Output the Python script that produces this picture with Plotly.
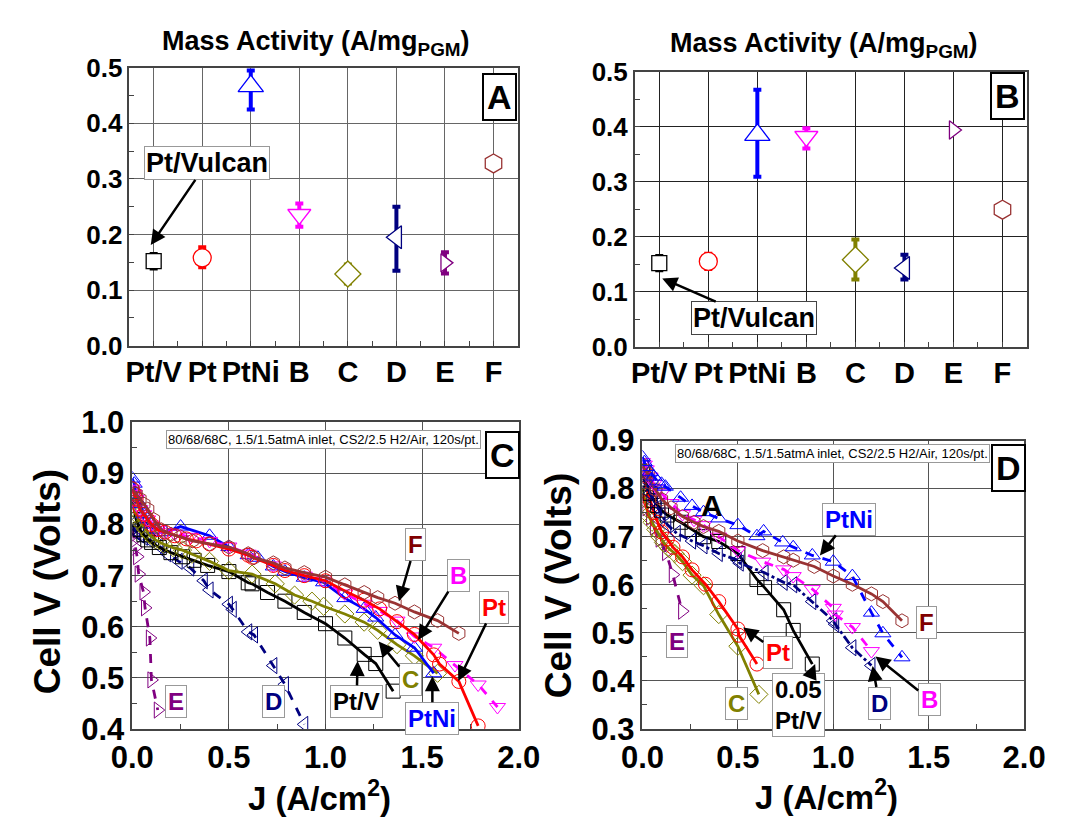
import plotly.graph_objects as go

W, H = 1072, 838

# ---------------- data: panels A and B (mass activity) ----------------
categories = ["Pt/V", "Pt", "PtNi", "B", "C", "D", "E", "F"]
ma_A = [0.152, 0.158, 0.467, 0.236, 0.129, 0.195, 0.149, 0.328]
ma_A_hi = [0.165, 0.177, 0.495, 0.256, 0.146, 0.250, 0.168, None]
ma_A_lo = [0.139, 0.141, 0.425, 0.214, 0.112, 0.135, 0.130, None]
ma_B = [0.152, 0.155, 0.385, 0.382, 0.158, 0.143, 0.394, 0.249]
ma_B_hi = [0.165, 0.169, 0.467, 0.397, 0.195, 0.167, None, None]
ma_B_lo = [0.139, 0.141, 0.309, 0.360, 0.122, 0.122, None, None]

# ---------------- data: panel C polarization curves ----------------
C_PtV_J = [0.0, 0.01, 0.02, 0.04, 0.06, 0.08, 0.1, 0.14, 0.2, 0.26, 0.32, 0.39, 0.5, 0.6, 0.62, 0.7, 0.79, 0.89, 1.0, 1.1, 1.2, 1.26, 1.35]
C_PtV_V = [0.85, 0.83, 0.81, 0.79, 0.78, 0.77, 0.765, 0.755, 0.745, 0.737, 0.73, 0.72, 0.708, 0.686, 0.684, 0.667, 0.65, 0.628, 0.606, 0.578, 0.546, 0.528, 0.474]
C_Pt_J = [0.0, 0.01, 0.02, 0.04, 0.06, 0.08, 0.1, 0.13, 0.17, 0.22, 0.28, 0.33, 0.4, 0.5, 0.6, 0.62, 0.73, 0.79, 0.89, 1.0, 1.1, 1.2, 1.28, 1.37, 1.46, 1.56, 1.59, 1.69, 1.79]
C_Pt_V = [0.87, 0.86, 0.85, 0.83, 0.82, 0.81, 0.8, 0.79, 0.785, 0.778, 0.772, 0.768, 0.762, 0.752, 0.74, 0.736, 0.72, 0.71, 0.7, 0.69, 0.67, 0.652, 0.635, 0.61, 0.585, 0.545, 0.527, 0.493, 0.406]
C_PtNi_J = [0.0, 0.01, 0.02, 0.04, 0.06, 0.08, 0.1, 0.13, 0.17, 0.25, 0.4, 0.5, 0.6, 0.65, 0.73, 0.79, 0.89, 0.99, 1.1, 1.2, 1.26, 1.36, 1.46, 1.56]
C_PtNi_V = [0.89, 0.88, 0.86, 0.84, 0.82, 0.81, 0.8, 0.79, 0.785, 0.796, 0.778, 0.756, 0.74, 0.735, 0.718, 0.708, 0.696, 0.687, 0.656, 0.635, 0.618, 0.584, 0.559, 0.509]
C_B_J = [0.0, 0.01, 0.02, 0.04, 0.06, 0.08, 0.1, 0.13, 0.17, 0.22, 0.3, 0.4, 0.5, 0.6, 0.73, 0.89, 0.99, 1.1, 1.2, 1.28, 1.37, 1.46, 1.56, 1.67, 1.79, 1.89]
C_B_V = [0.87, 0.86, 0.85, 0.83, 0.82, 0.81, 0.8, 0.79, 0.785, 0.782, 0.776, 0.768, 0.757, 0.743, 0.72, 0.7, 0.69, 0.665, 0.645, 0.631, 0.612, 0.581, 0.559, 0.525, 0.487, 0.443]
C_C_J = [0.0, 0.01, 0.02, 0.03, 0.05, 0.07, 0.09, 0.12, 0.16, 0.21, 0.26, 0.31, 0.4, 0.5, 0.62, 0.74, 0.84, 0.93, 0.99, 1.1, 1.2, 1.27, 1.37, 1.46, 1.58]
C_C_V = [0.84, 0.83, 0.82, 0.81, 0.8, 0.79, 0.78, 0.77, 0.762, 0.755, 0.75, 0.742, 0.728, 0.71, 0.703, 0.684, 0.662, 0.65, 0.64, 0.625, 0.609, 0.593, 0.565, 0.543, 0.509]
C_D_J = [0.0, 0.01, 0.02, 0.04, 0.06, 0.09, 0.14, 0.18, 0.24, 0.3, 0.37, 0.4, 0.5, 0.52, 0.6, 0.63, 0.73, 0.79, 0.89]
C_D_V = [0.8, 0.79, 0.785, 0.78, 0.775, 0.77, 0.758, 0.743, 0.728, 0.715, 0.69, 0.672, 0.644, 0.634, 0.59, 0.584, 0.524, 0.487, 0.409]
C_E_J = [0.0, 0.005, 0.01, 0.015, 0.025, 0.033, 0.058, 0.066, 0.091, 0.099, 0.132]
C_E_V = [0.79, 0.78, 0.77, 0.755, 0.737, 0.703, 0.668, 0.637, 0.578, 0.496, 0.437]
C_F_J = [0.0, 0.02, 0.04, 0.06, 0.08, 0.11, 0.15, 0.2, 0.25, 0.31, 0.4, 0.5, 0.6, 0.63, 0.73, 0.79, 0.89, 1.0, 1.1, 1.2, 1.27, 1.36, 1.46, 1.58, 1.69]
C_F_V = [0.87, 0.86, 0.85, 0.84, 0.83, 0.81, 0.79, 0.781, 0.776, 0.768, 0.762, 0.756, 0.743, 0.735, 0.725, 0.715, 0.706, 0.697, 0.682, 0.667, 0.657, 0.646, 0.629, 0.612, 0.587]

# ---------------- data: panel D polarization curves ----------------
D_PtV_J = [0.0, 0.01, 0.02, 0.04, 0.06, 0.08, 0.1, 0.13, 0.2, 0.26, 0.32, 0.4, 0.5, 0.6, 0.64, 0.74, 0.79, 0.89]
D_PtV_V = [0.83, 0.82, 0.81, 0.79, 0.775, 0.765, 0.755, 0.745, 0.73, 0.715, 0.7, 0.69, 0.665, 0.611, 0.594, 0.548, 0.505, 0.435]
D_Pt_J = [0.0, 0.01, 0.02, 0.03, 0.04, 0.05, 0.06, 0.08, 0.1, 0.13, 0.16, 0.21, 0.26, 0.33, 0.4, 0.5, 0.505, 0.6]
D_Pt_V = [0.83, 0.815, 0.8, 0.79, 0.775, 0.765, 0.75, 0.73, 0.71, 0.695, 0.678, 0.658, 0.631, 0.601, 0.565, 0.508, 0.495, 0.435]
D_PtNi_J = [0.0, 0.01, 0.02, 0.04, 0.06, 0.08, 0.1, 0.12, 0.2, 0.26, 0.32, 0.4, 0.5, 0.6, 0.635, 0.735, 0.79, 0.89, 1.0, 1.1, 1.2, 1.26, 1.36]
D_PtNi_V = [0.865, 0.855, 0.845, 0.835, 0.825, 0.815, 0.81, 0.804, 0.781, 0.764, 0.751, 0.738, 0.724, 0.701, 0.711, 0.688, 0.678, 0.661, 0.648, 0.618, 0.542, 0.499, 0.449]
D_B_J = [0.0, 0.01, 0.02, 0.04, 0.06, 0.08, 0.1, 0.15, 0.21, 0.27, 0.32, 0.4, 0.5, 0.63, 0.74, 0.79, 0.89, 1.0, 1.01, 1.1, 1.2]
D_B_V = [0.855, 0.85, 0.84, 0.825, 0.81, 0.8, 0.79, 0.77, 0.747, 0.735, 0.724, 0.7, 0.671, 0.648, 0.632, 0.618, 0.591, 0.552, 0.538, 0.512, 0.462]
D_C_J = [0.0, 0.01, 0.02, 0.03, 0.05, 0.07, 0.09, 0.11, 0.14, 0.17, 0.21, 0.26, 0.32, 0.4, 0.5, 0.61]
D_C_V = [0.8, 0.78, 0.76, 0.745, 0.73, 0.715, 0.7, 0.688, 0.675, 0.665, 0.648, 0.62, 0.598, 0.538, 0.472, 0.372]
D_D_J = [0.0, 0.01, 0.02, 0.04, 0.06, 0.08, 0.1, 0.13, 0.18, 0.26, 0.32, 0.4, 0.5, 0.51, 0.64, 0.74, 0.79, 0.89, 1.0, 1.01, 1.1, 1.2]
D_D_V = [0.83, 0.82, 0.81, 0.79, 0.775, 0.76, 0.745, 0.725, 0.707, 0.691, 0.681, 0.665, 0.651, 0.645, 0.625, 0.605, 0.6, 0.565, 0.525, 0.518, 0.469, 0.432]
D_E_J = [0.0, 0.01, 0.02, 0.04, 0.06, 0.09, 0.124, 0.159, 0.208]
D_E_V = [0.79, 0.775, 0.76, 0.74, 0.72, 0.695, 0.667, 0.621, 0.545]
D_F_J = [0.0, 0.01, 0.02, 0.03, 0.05, 0.07, 0.1, 0.15, 0.21, 0.27, 0.32, 0.4, 0.5, 0.63, 0.74, 0.79, 0.9, 1.0, 1.1, 1.2, 1.26, 1.36]
D_F_V = [0.85, 0.84, 0.835, 0.83, 0.81, 0.797, 0.778, 0.76, 0.742, 0.73, 0.721, 0.711, 0.691, 0.671, 0.658, 0.651, 0.638, 0.618, 0.601, 0.581, 0.565, 0.525]

# ---------------- styles ----------------
colors = {"Pt/V": "#000000", "Pt": "#FF0000", "PtNi": "#0000FF", "B": "#FF00FF",
          "C": "#808000", "D": "#000080", "E": "#800080", "F": "#993333"}
label_colors = dict(colors, F="#800000")
symbols = {"Pt/V": "square", "Pt": "circle", "PtNi": "triangle-up", "B": "triangle-down",
           "C": "diamond", "D": "triangle-left", "E": "triangle-right", "F": "hexagon"}
sizes_AB = {"Pt/V": 15, "Pt": 18, "PtNi": 22, "B": 20, "C": 20, "D": 20, "E": 16, "F": 19}

FONT = "Liberation Sans, Arial, sans-serif"


def dom_x(a, b):
    return [a / W, b / W]


def dom_y(top, bottom):
    return [1 - bottom / H, 1 - top / H]


fig = go.Figure()

# ---- mass activity panels ----
for axn, vals, hi, lo in [("", ma_A, ma_A_hi, ma_A_lo), ("2", ma_B, ma_B_hi, ma_B_lo)]:
    for i, cat in enumerate(categories):
        err = None
        if hi[i] is not None:
            err = dict(type="data", symmetric=False, array=[hi[i] - vals[i]],
                       arrayminus=[vals[i] - lo[i]], color=colors[cat], thickness=4, width=4)
        fig.add_trace(go.Scatter(
            x=[i], y=[vals[i]], mode="markers", xaxis="x" + axn, yaxis="y" + axn,
            marker=dict(symbol=symbols[cat], size=sizes_AB[cat], color="white",
                        line=dict(color=colors[cat], width=1.3)),
            error_y=err, showlegend=False, name=cat))

# ---- polarization panels ----
dash_C = {"Pt/V": "solid", "Pt": "solid", "PtNi": "solid", "B": "dash", "C": "solid",
          "D": "dash", "E": "dash", "F": "solid"}
dash_D = {"Pt/V": "solid", "Pt": "solid", "PtNi": "dash", "B": "dash", "C": "solid",
          "D": "dashdot", "E": "dash", "F": "solid"}
curves_C = [("E", C_E_J, C_E_V), ("D", C_D_J, C_D_V), ("Pt/V", C_PtV_J, C_PtV_V),
            ("C", C_C_J, C_C_V), ("PtNi", C_PtNi_J, C_PtNi_V), ("B", C_B_J, C_B_V),
            ("Pt", C_Pt_J, C_Pt_V), ("F", C_F_J, C_F_V)]
curves_D = [("E", D_E_J, D_E_V), ("C", D_C_J, D_C_V), ("Pt", D_Pt_J, D_Pt_V),
            ("Pt/V", D_PtV_J, D_PtV_V), ("D", D_D_J, D_D_V), ("B", D_B_J, D_B_V),
            ("F", D_F_J, D_F_V), ("PtNi", D_PtNi_J, D_PtNi_V)]
for axn, curves, dashes in [("3", curves_C, dash_C), ("4", curves_D, dash_D)]:
    for cat, J, V in curves:
        fig.add_trace(go.Scatter(
            x=J, y=V, mode="lines+markers", xaxis="x" + axn, yaxis="y" + axn,
            line=dict(color=colors[cat], width=2.8, dash=dashes[cat]),
            marker=dict(symbol=symbols[cat] + "-open", size=14, color=colors[cat],
                        line=dict(width=1)),
            showlegend=False, name=cat, cliponaxis=True))

# ---------------- axes ----------------
grid_common = dict(showline=True, linecolor="#444", linewidth=1.5, mirror=True,
                   showgrid=True, gridwidth=1, zeroline=False, ticks="inside",
                   ticklen=5, tickcolor="#444")

cat_x = dict(grid_common, range=[-0.5, 7.5], tickmode="array", tickvals=list(range(8)),
             ticktext=categories, tickfont=dict(family=FONT, size=29, color="black", weight="bold"),
             minor=dict(tickmode="array", tickvals=[i + 0.5 for i in range(7)], ticks="inside",
                        ticklen=5, tickcolor="#444", showgrid=False))
ma_y = dict(grid_common, range=[0, 0.5], tickmode="array", tickvals=[0, 0.1, 0.2, 0.3, 0.4, 0.5],
            ticktext=["0.0", "0.1", "0.2", "0.3", "0.4", "0.5"],
            tickfont=dict(family=FONT, size=26, color="black", weight="bold"),
            minor=dict(tickmode="array", tickvals=[0.05, 0.15, 0.25, 0.35, 0.45], ticks="inside",
                       ticklen=5, tickcolor="#444", showgrid=False))
J_x = dict(grid_common, range=[0, 2.0], tickmode="array", tickvals=[0, 0.5, 1.0, 1.5, 2.0],
           ticktext=["0.0", "0.5", "1.0", "1.5", "2.0"],
           tickfont=dict(family=FONT, size=31, color="black", weight="bold"),
           minor=dict(tickmode="array", tickvals=[0.25, 0.75, 1.25, 1.75], ticks="inside",
                      ticklen=5, tickcolor="#444", showgrid=False))

fig.update_layout(
    width=W, height=H, margin=dict(l=0, r=0, t=0, b=0),
    paper_bgcolor="white", plot_bgcolor="white", showlegend=False,
    font=dict(family=FONT, color="black"),
    xaxis=dict(cat_x, domain=dom_x(112, 517), anchor="y", gridcolor="#666"),
    yaxis=dict(ma_y, domain=dom_y(53, 343), anchor="x", gridcolor="#666"),
    xaxis2=dict(cat_x, domain=dom_x(639, 1048), anchor="y2", gridcolor="#222"),
    yaxis2=dict(ma_y, domain=dom_y(57, 344), anchor="x2", gridcolor="#222"),
    xaxis3=dict(J_x, domain=dom_x(115, 518), anchor="y3", gridcolor="#555"),
    yaxis3=dict(grid_common, domain=dom_y(423, 743), anchor="x3", range=[0.4, 1.0], gridcolor="#555",
                tickmode="array", tickvals=[0.4, 0.5, 0.6, 0.7, 0.8, 0.9, 1.0],
                ticktext=["0.4", "0.5", "0.6", "0.7", "0.8", "0.9", "1.0"],
                tickfont=dict(family=FONT, size=31, color="black", weight="bold"),
                minor=dict(tickmode="array", tickvals=[0.45, 0.55, 0.65, 0.75, 0.85, 0.95],
                           ticks="inside", ticklen=5, tickcolor="#444", showgrid=False)),
    xaxis4=dict(J_x, domain=dom_x(647, 1045), anchor="y4", gridcolor="#555"),
    yaxis4=dict(grid_common, domain=dom_y(442, 743), anchor="x4", range=[0.3, 0.9], gridcolor="#555",
                tickmode="array", tickvals=[0.3, 0.4, 0.5, 0.6, 0.7, 0.8, 0.9],
                ticktext=["0.3", "0.4", "0.5", "0.6", "0.7", "0.8", "0.9"],
                tickfont=dict(family=FONT, size=31, color="black", weight="bold"),
                minor=dict(tickmode="array", tickvals=[0.35, 0.45, 0.55, 0.65, 0.75, 0.85],
                           ticks="inside", ticklen=5, tickcolor="#444", showgrid=False)),
)

ann = []


def paper_text(text, px, py, size, angle=0):
    ann.append(dict(text=text, x=px / W, y=1 - py / H, xref="paper", yref="paper",
                    showarrow=False, textangle=angle, xanchor="center", yanchor="middle",
                    font=dict(family=FONT, size=size, color="black", weight="bold")))


paper_text("Mass Activity (A/mg<sub>PGM</sub>)", 307, 27, 27)
paper_text("Mass Activity (A/mg<sub>PGM</sub>)", 836, 29, 27)
paper_text("J (A/cm<sup>2</sup>)", 310, 813, 33)
paper_text("J (A/cm<sup>2</sup>)", 839, 812, 33)
paper_text("Cell V (Volts)", 27, 589, 37, -90)
paper_text("Cell V (Volts)", 559, 594, 37, -90)


def box_label(text, ax, x, y, color, size=24, bw=1, bcol="#999", pad=2, tip=None):
    a = dict(text=text, xref="x" + ax, yref="y" + ax, xanchor="center", yanchor="middle",
             bgcolor="white", bordercolor=bcol, borderwidth=bw, borderpad=pad,
             font=dict(family=FONT, size=size, color=color, weight="bold"))
    if tip is None:
        a.update(x=x, y=y, showarrow=False)
    else:
        a.update(x=tip[0], y=tip[1], ax=x, ay=y, axref="x" + ax, ayref="y" + ax,
                 showarrow=True, arrowhead=2, arrowsize=1.2, arrowwidth=2.5,
                 arrowcolor="black")
    ann.append(a)


# panel A
box_label("A", "", 7.13, 0.448, "black", size=34, bw=2, bcol="black", pad=3)
box_label("Pt/Vulcan", "", 1.09, 0.328, "black", size=27, bw=1, bcol="#999", pad=1,
          tip=(-0.06, 0.181))
# panel B
box_label("B", "2", 7.11, 0.455, "black", size=34, bw=2, bcol="black", pad=3)
box_label("Pt/Vulcan", "2", 1.93, 0.052, "black", size=27, bw=1, bcol="#444", pad=1,
          tip=(0.06, 0.124))

# panel C
cond = "80/68/68C, 1.5/1.5atmA inlet, CS2/2.5 H2/Air, 120s/pt."
ann.append(dict(text=cond, x=0.99, y=0.967, xref="x3", yref="y3", showarrow=False,
                bgcolor="white", bordercolor="#999", borderwidth=1, borderpad=1,
                font=dict(family=FONT, size=13, color="black")))
box_label("C", "3", 1.916, 0.937, "black", size=34, bw=2, bcol="black", pad=3)
box_label("F", "3", 1.464, 0.760, label_colors["F"], tip=(1.38, 0.650))
box_label("B", "3", 1.687, 0.700, label_colors["B"], tip=(1.479, 0.574))
box_label("Pt", "3", 1.871, 0.638, label_colors["Pt"], tip=(1.687, 0.494))
box_label("C", "3", 1.439, 0.496, label_colors["C"], tip=(1.275, 0.571))
box_label("Pt/V", "3", 1.161, 0.454, label_colors["Pt/V"], tip=(1.166, 0.533))
box_label("PtNi", "3", 1.553, 0.421, label_colors["PtNi"], tip=(1.553, 0.503))
box_label("D", "3", 0.73, 0.454, label_colors["D"])
box_label("E", "3", 0.228, 0.453, label_colors["E"])

# panel D
ann.append(dict(text=cond, x=0.995, y=0.874, xref="x4", yref="y4", showarrow=False,
                bgcolor="white", bordercolor="#999", borderwidth=1, borderpad=1,
                font=dict(family=FONT, size=13, color="black")))
box_label("D", "4", 1.92, 0.842, "black", size=34, bw=2, bcol="black", pad=3)
ann.append(dict(text="A", x=0.367, y=0.764, xref="x4", yref="y4", showarrow=False,
                font=dict(family=FONT, size=30, color="black", weight="bold")))
box_label("PtNi", "4", 1.08, 0.736, label_colors["PtNi"], tip=(0.93, 0.661))
box_label("F", "4", 1.487, 0.521, label_colors["F"])
box_label("E", "4", 0.181, 0.481, label_colors["E"])
box_label("Pt", "4", 0.709, 0.459, label_colors["Pt"], tip=(0.528, 0.511))
box_label("C", "4", 0.492, 0.354, label_colors["C"])
box_label("0.05<br>Pt/V", "4", 0.819, 0.35, label_colors["Pt/V"], tip=(0.905, 0.435))
box_label("D", "4", 1.241, 0.354, label_colors["D"], tip=(1.206, 0.431))
box_label("B", "4", 1.503, 0.362, label_colors["B"], tip=(1.221, 0.451))

fig.update_layout(annotations=ann)
fig.write_html("out.html")
